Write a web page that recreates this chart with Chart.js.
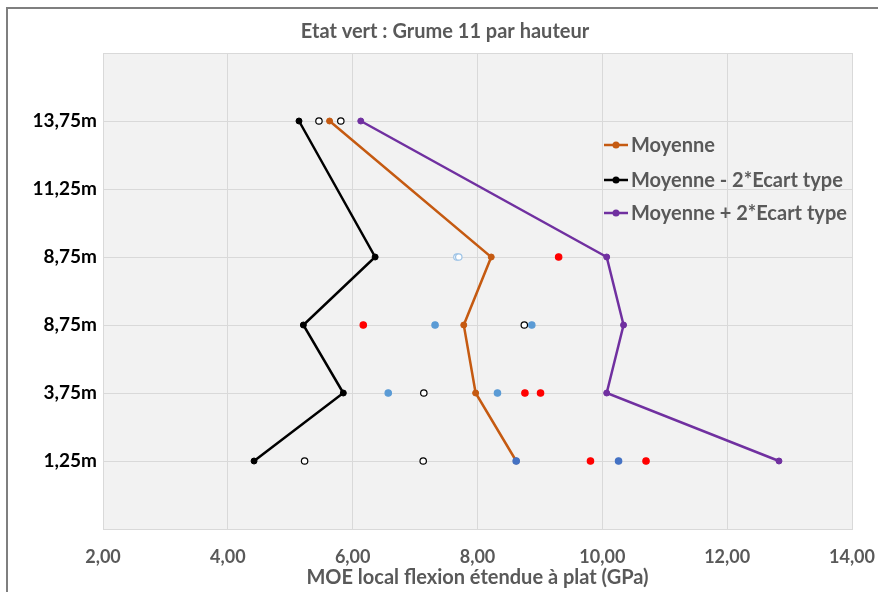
<!DOCTYPE html>
<html>
<head>
<meta charset="utf-8">
<script src="https://cdn.jsdelivr.net/npm/chart.js@4.4.1/dist/chart.umd.min.js"></script>
<style>
  html, body { margin: 0; padding: 0; background: #fff; }
</style>
</head>
<body>
<canvas id="myChart" width="878" height="592"></canvas>
<script>
// heights along the log (one row per measuring section)
const heightLabels = ['1,25m', '3,75m', '8,75m', '8,75m', '11,25m', '13,75m'];

// mean and +/- 2 standard deviations, rows 1..4 and 6
const meanRows = [1, 2, 3, 4, 6];
const moyenne = [8.62, 7.97, 7.78, 8.22, 5.63];
const moyenneMoins = [4.42, 5.85, 5.21, 6.36, 5.14];
const moyennePlus = [12.83, 10.07, 10.34, 10.07, 6.13];

// individual measurements
const redX = [9.81, 10.70, 8.76, 9.01, 6.17, 9.30];
const redRows = [1, 1, 2, 2, 3, 4];
const blueX = [6.57, 8.32, 7.32, 8.87];
const blueRows = [2, 2, 3, 3];
const darkBlueX = [8.62, 10.26];
const darkBlueRows = [1, 1];
const openX = [5.23, 7.13, 7.14, 8.75, 5.46, 5.81];
const openRows = [1, 1, 2, 3, 6, 6];
const openBlueX = [7.67, 7.70];
const openBlueRows = [4, 4];

const grey = '#595959';
const fontFamily = 'Lato, "Open Sans", sans-serif';

function pts(xs, rows) {
  return xs.map((x, i) => ({ x: x, y: rows[i] }));
}

function dots(xs, rows, fill, stroke) {
  return {
    data: pts(xs, rows),
    showLine: false,
    pointRadius: 3.2,
    pointHoverRadius: 3.2,
    pointBackgroundColor: fill,
    pointBorderColor: stroke,
    pointBorderWidth: 1.2
  };
}

function meanLine(label, values, color) {
  return {
    label: label,
    data: pts(values, meanRows),
    showLine: true,
    borderColor: color,
    borderWidth: 2.5,
    pointRadius: 3,
    pointHoverRadius: 3,
    pointBorderWidth: 1,
    pointBackgroundColor: color,
    pointBorderColor: color
  };
}

const lines = [
  meanLine('Moyenne', moyenne, '#c55a11'),
  meanLine('Moyenne - 2*Ecart type', moyenneMoins, '#000000'),
  meanLine('Moyenne + 2*Ecart type', moyennePlus, '#7030a0')
];

// plot background, outer frame, title and legend inside the plot
const decor = {
  id: 'decor',
  beforeDraw(chart) {
    const { ctx, chartArea: a } = chart;
    ctx.save();
    ctx.fillStyle = '#f2f2f2';
    ctx.fillRect(a.left, a.top, a.right - a.left, a.bottom - a.top);
    ctx.restore();
  },
  afterDraw(chart) {
    const ctx = chart.ctx;
    ctx.save();
    ctx.fillStyle = '#7f7f7f';
    ctx.fillRect(6, 7, 2, 585);
    ctx.fillRect(6, 7, 872, 2);

    ctx.fillStyle = grey;
    ctx.font = 'bold 20px ' + fontFamily;
    ctx.textAlign = 'center';
    ctx.textBaseline = 'middle';
    ctx.fillText('Etat vert : Grume 11 par hauteur', 445, 32);

    const rowsY = [145, 180, 213];
    ctx.font = 'bold 20px ' + fontFamily;
    ctx.textAlign = 'left';
    lines.forEach((ds, i) => {
      const y = rowsY[i];
      ctx.strokeStyle = ds.borderColor;
      ctx.lineWidth = 2.5;
      ctx.beginPath();
      ctx.moveTo(604, y);
      ctx.lineTo(628, y);
      ctx.stroke();
      ctx.fillStyle = ds.borderColor;
      ctx.beginPath();
      ctx.arc(616, y, 3.5, 0, Math.PI * 2);
      ctx.fill();
      ctx.fillStyle = grey;
      ctx.fillText(ds.label, 631, y + 1);
    });
    ctx.restore();
  }
};

const ctx = document.getElementById('myChart').getContext('2d');
new Chart(ctx, {
  type: 'scatter',
  data: {
    datasets: [
      dots(darkBlueX, darkBlueRows, '#4472c4', '#4472c4'),
      dots(redX, redRows, '#ff0000', '#ff0000'),
      dots(blueX, blueRows, '#5b9bd5', '#5b9bd5'),
      dots(openX, openRows, '#ffffff', '#000000'),
      dots(openBlueX, openBlueRows, '#ffffff', '#9dc3e6'),
      ...lines
    ]
  },
  options: {
    responsive: false,
    animation: false,
    layout: { padding: { top: 53, right: 26, left: 0, bottom: 0 } },
    plugins: {
      legend: { display: false },
      title: { display: false },
      tooltip: { enabled: false }
    },
    scales: {
      x: {
        type: 'linear',
        min: 2,
        max: 14,
        afterFit(scale) {
          scale.height = 63;
          scale.paddingLeft = 0;
          scale.paddingRight = 0;
        },
        ticks: {
          stepSize: 2,
          padding: 17,
          color: grey,
          font: { family: fontFamily, size: 18, weight: 'bold' },
          callback: v => v.toFixed(2).replace('.', ',')
        },
        grid: { color: '#d9d9d9', drawTicks: false },
        border: { color: '#d9d9d9' },
        title: {
          display: true,
          text: 'MOE local flexion étendue à plat (GPa)',
          color: grey,
          font: { family: fontFamily, size: 20, weight: 'bold' },
          padding: { top: 0, bottom: 2 }
        }
      },
      y: {
        type: 'linear',
        min: 0,
        max: 7,
        afterFit(scale) {
          scale.width = 103;
          scale.paddingTop = 0;
          scale.paddingBottom = 0;
        },
        ticks: {
          stepSize: 1,
          padding: 6,
          color: '#000000',
          font: { family: fontFamily, size: 19, weight: 'bold' },
          callback: v => heightLabels[v - 1] || ''
        },
        grid: { color: '#d9d9d9', drawTicks: false },
        border: { color: '#d9d9d9' }
      }
    }
  },
  plugins: [decor]
});
</script>
</body>
</html>
